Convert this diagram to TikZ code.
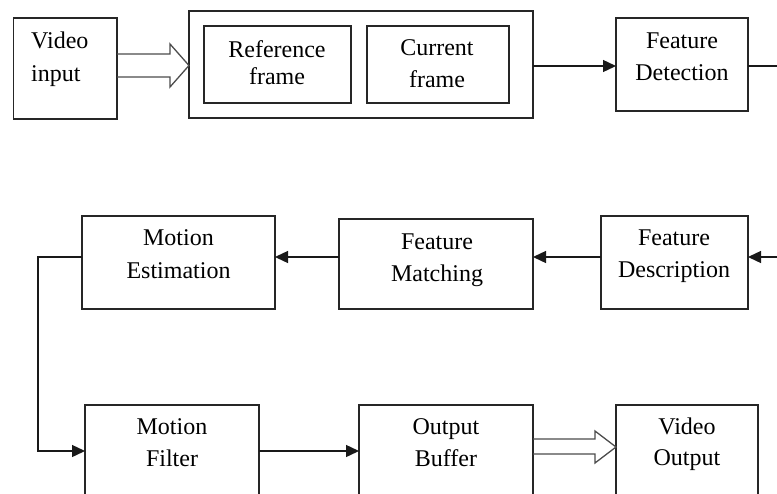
\documentclass[tikz,border=0pt]{standalone}
\usepackage{fontspec}
\setmainfont{Liberation Serif}
\usetikzlibrary{arrows.meta,calc}
\newcommand\twoline[3]{\begin{tabular}[t]{@{}#1@{}}#2\\#3\end{tabular}}
\tikzset{
  box/.style={draw=black!85, line width=1.3pt, inner sep=0pt, outer sep=0pt},
  txt/.style={anchor=base, inner sep=0pt, text=black},
  conn/.style={draw=black!90, line width=1.4pt},
  tip/.style={-{Triangle[length=13pt,width=12pt]}},
  hollow/.style={draw=black!70, line width=1.3pt, line join=miter},
}
\begin{document}
\begin{tikzpicture}[x=1pt,y=-1pt]
\useasboundingbox (0,0) rectangle (777,493);
\clip (0,0) rectangle (777,493);
% boxes
\node[box, minimum width=103.5pt, minimum height=101pt] (vin) at (65.25,68.5) {};
\node[box, minimum width=344pt, minimum height=107pt] (big) at (361,64.5) {};
\node[box, minimum width=147pt, minimum height=77pt] (ref) at (277.5,64.5) {};
\node[box, minimum width=142pt, minimum height=77pt] (cur) at (438,64.5) {};
\node[box, minimum width=132pt, minimum height=93pt] (fd) at (682,64.5) {};
\node[box, minimum width=147pt, minimum height=93pt] (fdesc) at (674.5,262.5) {};
\node[box, minimum width=194pt, minimum height=90pt] (fm) at (436,264) {};
\node[box, minimum width=193pt, minimum height=93pt] (me) at (178.5,262.5) {};
\node[box, minimum width=174pt, minimum height=92pt] (mf) at (172,451) {};
\node[box, minimum width=174pt, minimum height=92pt] (ob) at (446,451) {};
\node[box, minimum width=142pt, minimum height=92pt] (vout) at (687,451) {};
% texts
\node[txt, anchor=base west, font=\fontsize{24}{33}\selectfont] (vin-t) at (31,48.3) {\twoline{l}{Video}{input}};
\node[txt, font=\fontsize{24}{27}\selectfont] (ref-t) at (277,57) {\twoline{c}{Reference}{frame}};
\node[txt, font=\fontsize{24}{32}\selectfont] (cur-t) at (437,55) {\twoline{c}{Current}{frame}};
\node[txt, font=\fontsize{24}{32}\selectfont] (fd-t) at (682,48.3) {\twoline{c}{Feature}{Detection}};
\node[txt, font=\fontsize{24}{32}\selectfont] (fdesc-t) at (674,245) {\twoline{c}{Feature}{Description}};
\node[txt, font=\fontsize{24}{32}\selectfont] (fm-t) at (437,249) {\twoline{c}{Feature}{Matching}};
\node[txt, font=\fontsize{24}{33}\selectfont] (me-t) at (178.5,245) {\twoline{c}{Motion}{Estimation}};
\node[txt, font=\fontsize{24}{32}\selectfont] (mf-t) at (172,434) {\twoline{c}{Motion}{Filter}};
\node[txt, font=\fontsize{24}{32}\selectfont] (ob-t) at (446,434) {\twoline{c}{Output}{Buffer}};
\node[txt, font=\fontsize{24}{31}\selectfont] (vout-t) at (687,434) {\twoline{c}{Video}{Output}};
% helper coordinates
\coordinate (h1a) at (0,54);
\coordinate (h1b) at (0,77);
\coordinate (h1c) at (0,65.5);
\coordinate (h2a) at (0,439);
\coordinate (h2b) at (0,454);
\coordinate (h2c) at (0,447);
\coordinate (r1) at (777,66);
\coordinate (r2) at (777,257);
\coordinate (c1) at (38,257);
% hollow arrows
\draw[hollow] (vin.east |- h1a) -- (170,54) -- (170,44) -- (big.west |- h1c) -- (170,87) -- (170,77) -- (vin.east |- h1b);
\draw[hollow] (ob.east |- h2a) -- (595,439) -- (595,431) -- (vout.west |- h2c) -- (595,463) -- (595,454) -- (ob.east |- h2b);
% connectors
\draw[conn,tip] (big.east |- r1) -- (fd.west |- r1);
\draw[conn] (fd.east |- r1) -- (r1);
\draw[conn,tip] (r2) -- (fdesc.east |- r2);
\draw[conn,tip] (fdesc.west |- r2) -- (fm.east |- r2);
\draw[conn,tip] (fm.west |- r2) -- (me.east |- r2);
\draw[conn,tip] (me.west |- r2) -- (c1) |- (mf.west);
\draw[conn,tip] (mf.east) -- (ob.west);
\end{tikzpicture}
\end{document}
